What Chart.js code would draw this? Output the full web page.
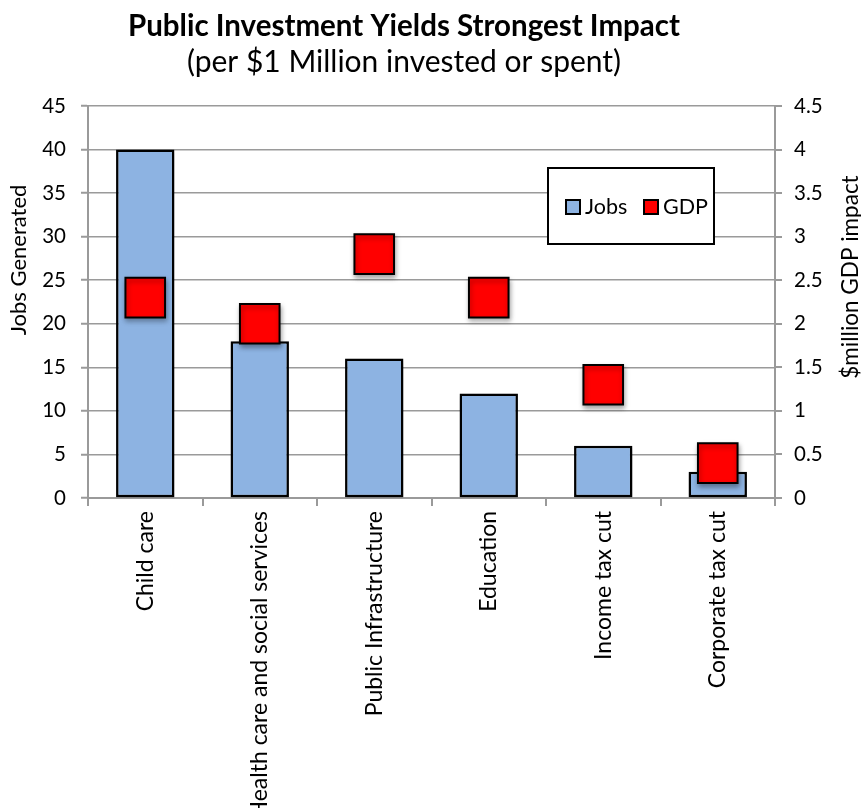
<!DOCTYPE html>
<html>
<head>
<meta charset="utf-8">
<script src="https://cdn.jsdelivr.net/npm/chart.js@4.4.1/dist/chart.umd.min.js"></script>
<style>
  html, body { margin: 0; padding: 0; background: #fff; }
</style>
</head>
<body>
<canvas id="impactChart" width="861" height="808"></canvas>
<script>
const categories = ['Child care', 'Health care and social services', 'Public Infrastructure', 'Education', 'Income tax cut', 'Corporate tax cut'];
const jobs = [40, 18, 16, 12, 6, 3];
const gdp = [2.3, 2.0, 2.8, 2.3, 1.3, 0.4];
const jobsTicks = [0, 5, 10, 15, 20, 25, 30, 35, 40, 45];
const gdpTicks = [0, 0.5, 1, 1.5, 2, 2.5, 3, 3.5, 4, 4.5];

const FONT = 'Lato, "Open Sans", sans-serif';
const axisGrey = '#9a9a9a';

// titles, axis titles and the legend box are drawn by hand
const decorations = {
  id: 'decorations',
  beforeDatasetsDraw(chart) {
    const ctx = chart.ctx;
    ctx.save();
    ctx.shadowColor = 'rgba(0,0,0,0.35)';
    ctx.shadowBlur = 5;
    ctx.shadowOffsetX = 1;
    ctx.shadowOffsetY = 3;
  },
  afterDatasetsDraw(chart) {
    chart.ctx.restore();
  },
  afterDraw(chart) {
    const ctx = chart.ctx;
    ctx.save();
    ctx.fillStyle = '#000';
    ctx.textAlign = 'center';
    ctx.textBaseline = 'middle';
    ctx.font = 'bold 29.5px ' + FONT;
    ctx.fillText('Public Investment Yields Strongest Impact', 404, 26);
    ctx.font = '30px ' + FONT;
    ctx.fillText('(per $1 Million invested or spent)', 404, 62);

    ctx.save();
    ctx.font = '22px ' + FONT;
    ctx.translate(19, 260);
    ctx.rotate(-Math.PI / 2);
    ctx.fillText('Jobs Generated', 0, 0);
    ctx.restore();
    ctx.save();
    ctx.font = '22.5px ' + FONT;
    ctx.translate(851, 277);
    ctx.rotate(-Math.PI / 2);
    ctx.fillText('$million GDP impact', 0, 0);
    ctx.restore();

    // legend
    ctx.fillStyle = '#fff';
    ctx.fillRect(548, 168, 166, 76);
    ctx.lineWidth = 2;
    ctx.strokeStyle = '#000';
    ctx.strokeRect(548, 168, 166, 76);
    const items = chart.data.datasets.map(d => ({ label: d.label, color: d.backgroundColor }));
    const xs = [566, 644];
    ctx.textAlign = 'left';
    ctx.font = '21.5px ' + FONT;
    items.forEach((it, i) => {
      ctx.fillStyle = it.color;
      ctx.fillRect(xs[i], 200, 14, 14);
      ctx.strokeRect(xs[i], 200, 14, 14);
      ctx.fillStyle = '#000';
      ctx.fillText(it.label, xs[i] + 19, 207);
    });
    ctx.restore();
  }
};

const ctx = document.getElementById('impactChart').getContext('2d');
const chart = new Chart(ctx, {
  type: 'bar',
  data: {
    labels: categories,
    datasets: [{
      label: 'Jobs',
      data: jobs,
      yAxisID: 'y',
      backgroundColor: '#8db3e2',
      borderColor: '#000',
      borderWidth: 2.5,
      borderSkipped: false,
      categoryPercentage: 1,
      barPercentage: 0.51,
      order: 2
    }, {
      type: 'line',
      label: 'GDP',
      data: gdp,
      yAxisID: 'y1',
      showLine: false,
      pointStyle: 'rect',
      pointRadius: 28,
      pointHoverRadius: 28,
      backgroundColor: '#ff0000',
      borderColor: '#000',
      borderWidth: 2,
      order: 1
    }]
  },
  options: {
    responsive: false,
    animation: false,
    layout: { padding: { top: 106, left: 0, right: 0, bottom: 0 } },
    plugins: {
      legend: { display: false },
      tooltip: { enabled: false }
    },
    scales: {
      x: {
        offset: true,
        grid: {
          offset: true,
          drawOnChartArea: false,
          tickLength: 8,
          color: axisGrey,
          lineWidth: 2
        },
        border: { color: axisGrey, width: 2 },
        ticks: {
          minRotation: 90,
          maxRotation: 90,
          autoSkip: false,
          padding: 5,
          color: '#000',
          font: { family: FONT, size: 23 }
        },
        afterFit: s => { s.height = 310; }
      },
      y: {
        position: 'left',
        min: 0,
        max: 45,
        afterBuildTicks: s => { s.ticks = jobsTicks.map(v => ({ value: v })); },
        grid: {
          color: axisGrey,
          lineWidth: 1.5,
          borderDash: [2, 2],
          tickBorderDash: [],
          tickLength: 7,
          tickColor: axisGrey,
          tickWidth: 2
        },
        border: { color: axisGrey, width: 2 },
        ticks: {
          padding: 15,
          color: '#000',
          font: { family: FONT, size: 20.5 }
        },
        afterFit: s => { s.width = 88; }
      },
      y1: {
        position: 'right',
        min: 0,
        max: 4.5,
        afterBuildTicks: s => { s.ticks = gdpTicks.map(v => ({ value: v })); },
        grid: {
          drawOnChartArea: false,
          tickLength: 7,
          color: axisGrey,
          lineWidth: 2
        },
        border: { color: axisGrey, width: 2 },
        ticks: {
          padding: 12,
          color: '#000',
          font: { family: FONT, size: 20.5 },
          callback: v => String(v)
        },
        afterFit: s => { s.width = 86; }
      }
    }
  },
  plugins: [decorations]
});
</script>
</body>
</html>
